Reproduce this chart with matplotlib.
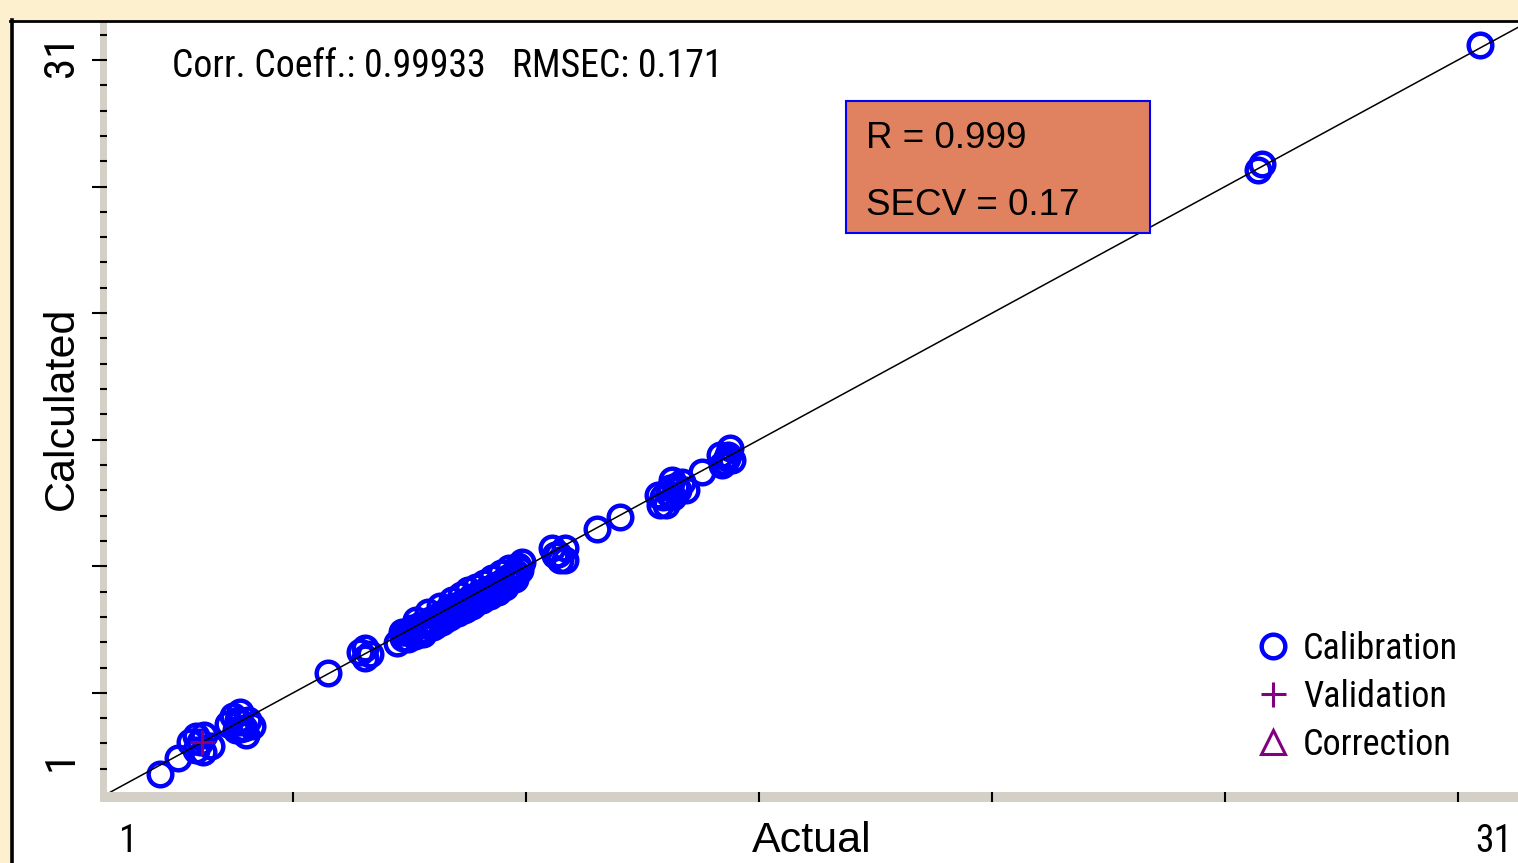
import matplotlib.pyplot as plt
from matplotlib.lines import Line2D
from matplotlib.patches import Rectangle
from matplotlib.ticker import MultipleLocator

W, H = 1518, 863

# calibration samples (actual vs calculated)
actual = [2.22, 2.61, 3.01, 3.01, 3.10, 3.35, 2.88, 3.19, 3.17,
          3.83, 3.99, 4.08, 3.90, 4.17, 3.72, 3.99, 4.12, 4.25, 4.00, 3.95,
          5.94, 6.76, 6.76, 6.65, 6.87, 7.47, 7.58,
          7.65, 7.80, 7.87, 7.98, 8.09, 8.20, 8.27, 8.38, 8.47, 8.58, 8.65,
          8.76, 8.82, 8.91, 9.00, 9.09, 9.18, 9.27, 9.35, 9.44, 9.53, 9.62,
          9.71, 9.82, 9.91, 10.02, 10.15, 10.24,
          7.72, 7.90, 8.05, 8.15, 8.33, 8.42, 8.55, 8.70, 8.73, 8.88, 8.95, 9.05,
          9.13, 9.22, 9.31, 9.40, 9.50, 9.58, 9.66, 9.78, 9.87, 9.95, 10.08, 10.20,
          7.60, 7.75, 7.95, 8.10, 8.25, 8.40, 8.50, 8.62, 8.80, 8.92, 9.02,
          9.15, 9.25, 9.38, 9.48, 9.60, 9.70, 9.80, 9.93, 10.05, 10.12,
          10.97, 11.19, 11.08, 10.91, 11.19, 11.05, 11.90, 12.41,
          13.30, 13.37, 13.52, 13.57, 13.70, 13.79, 13.43, 13.59, 13.26, 13.88, 13.50, 13.65,
          14.23, 14.74, 14.81, 14.85, 14.67, 14.90, 14.63, 14.78,
          26.56, 26.65, 31.48]
calculated = [1.85, 2.51, 3.41, 2.83, 3.16, 3.00, 3.16, 3.45, 2.75,
              4.22, 3.98, 3.73, 3.65, 4.06, 3.90, 4.39, 3.45, 3.81, 3.70, 4.05,
              5.98, 7.00, 6.59, 6.83, 6.75, 7.20, 7.65,
              7.65, 7.81, 7.49, 7.94, 7.73, 8.14, 7.86, 8.30, 8.06, 8.55, 8.26,
              8.71, 8.43, 8.83, 8.59, 9.04, 8.79, 9.20, 8.96, 9.37, 9.12, 9.53,
              9.28, 9.65, 9.86, 9.98, 10.34, 10.51,
              7.35, 8.15, 7.55, 8.45, 7.95, 8.70, 8.20, 8.95, 8.40, 9.15, 8.55, 9.35,
              8.70, 9.50, 8.95, 9.65, 9.10, 9.85, 9.30, 10.05, 9.50, 10.25, 9.80, 10.20,
              7.40, 7.60, 7.70, 7.95, 8.05, 8.15, 8.35, 8.45, 8.60, 8.75, 8.85,
              9.00, 9.05, 9.20, 9.35, 9.40, 9.55, 9.70, 9.75, 9.95, 10.05,
              10.79, 11.08, 10.59, 11.08, 10.59, 10.85, 11.86, 12.34,
              12.83, 13.16, 13.53, 13.86, 13.45, 13.77, 12.83, 13.16, 13.24, 13.45, 13.30, 13.60,
              14.18, 14.59, 14.88, 15.16, 14.47, 14.67, 14.88, 14.75,
              26.51, 26.75, 31.61]

val_actual = [3.15]
val_calc = [3.16]
corr_actual = []
corr_calc = []

stats_text = "Corr. Coeff.: 0.99933   RMSEC: 0.171"
box_lines = ["R = 0.999", "SECV = 0.17"]
legend_labels = ["Calibration", "Validation", "Correction"]
axis_min, axis_max = "1", "31"
major_ticks = [5.1667, 10.3333, 15.5, 20.6667, 25.8333, 31.0]

CREAM = "#FDF0CF"
GREY = "#D4D0C8"
BLUE = "#0000FF"
PURPLE = "#800080"
narrow = ["Roboto Condensed", "Liberation Sans"]
arial = ["Liberation Sans", "DejaVu Sans"]


def fx(px):
    return px / W


def fy(py):
    return (H - py) / H


fig = plt.figure(figsize=(W / 100, H / 100), dpi=100, facecolor=CREAM)

# white panel, grey axis bars, black border
fig.add_artist(Rectangle((fx(12), 0), 1, fy(21), transform=fig.transFigure,
                         fc="white", ec="none", zorder=-2))
fig.add_artist(Rectangle((fx(100), fy(802)), fx(1418), 10 / H, transform=fig.transFigure,
                         fc=GREY, ec="none", zorder=-1))
fig.add_artist(Rectangle((fx(100), fy(802)), fx(7), 781 / H, transform=fig.transFigure,
                         fc=GREY, ec="none", zorder=-1))
fig.add_artist(Line2D([fx(12), fx(12)], [0, fy(20)], transform=fig.transFigure,
                      color="black", lw=2.6, zorder=5))
fig.add_artist(Line2D([fx(10), 1], [fy(21.3), fy(21.3)], transform=fig.transFigure,
                      color="black", lw=2.0, zorder=5))

ax = fig.add_axes([fx(107), fy(792), fx(1411), 771 / H])
ax.set_xlim(1.04, 32.33)
ax.set_ylim(1.12, 32.59)
for s in ax.spines.values():
    s.set_visible(False)

ax.set_xticks(major_ticks)
ax.set_yticks(major_ticks)
ax.yaxis.set_minor_locator(MultipleLocator(31 / 30))
ax.tick_params(axis="x", which="major", length=7.2, width=1.5, labelbottom=False)
ax.tick_params(axis="y", which="major", length=10.8, width=1.5, labelleft=False)
ax.tick_params(axis="y", which="minor", length=5.0, width=1.5)

ax.axline((1, 1), slope=1, color="black", lw=1.1, zorder=4)
ax.plot(actual, calculated, "o", mfc="none", mec=BLUE, ms=17, mew=3.2,
        ls="none", zorder=3, label=legend_labels[0])
ax.plot(val_actual, val_calc, "+", color=PURPLE, ms=18, mew=2.2,
        ls="none", zorder=5, label=legend_labels[1])
ax.plot(corr_actual, corr_calc, "^", mfc="none", mec=PURPLE, ms=17, mew=2.2,
        ls="none", zorder=5, label=legend_labels[2])

ax.legend(loc="upper left", bbox_to_anchor=(fx(1258), fy(631)), bbox_transform=fig.transFigure,
          frameon=False, prop={"family": narrow, "size": 26}, handlelength=0.85,
          handletextpad=0.4, labelspacing=0.33, borderpad=0, borderaxespad=0)

# labels
ax.set_xlabel("Actual", fontsize=31, family=arial)
ax.xaxis.set_label_coords((812 - 107) / 1411, (792 - 852) / 771)
ax.xaxis.label.set_va("baseline")
ax.set_ylabel("Calculated", fontsize=31, family=arial)
ax.yaxis.set_label_coords((73 - 107) / 1411, (792 - 408) / 771)
ax.yaxis.label.set_va("baseline")

fig.text(fx(128), fy(852), axis_min, fontsize=27, family=narrow, ha="center", va="baseline")
fig.text(fx(1494), fy(852), axis_max, fontsize=27, family=narrow, ha="center", va="baseline")
fig.text(fx(73), fy(56), axis_max, fontsize=31, family=narrow, rotation=90,
         rotation_mode="anchor", ha="center", va="baseline")
fig.text(fx(73), fy(760), axis_min, fontsize=31, family=narrow, rotation=90,
         rotation_mode="anchor", ha="center", va="baseline")

fig.text(fx(172), fy(77), stats_text, fontsize=27.3, family=narrow, va="baseline")

# statistics box
fig.add_artist(Rectangle((fx(846), fy(233)), fx(304), 132 / H, transform=fig.transFigure,
                         fc="#E0825F", ec=BLUE, lw=1.5, zorder=6))
fig.text(fx(866), fy(148), box_lines[0], fontsize=26.5, family=arial, va="baseline", zorder=7)
fig.text(fx(866), fy(215), box_lines[1], fontsize=26.5, family=arial, va="baseline", zorder=7)

fig.savefig("out.png", dpi=100, facecolor=CREAM)
